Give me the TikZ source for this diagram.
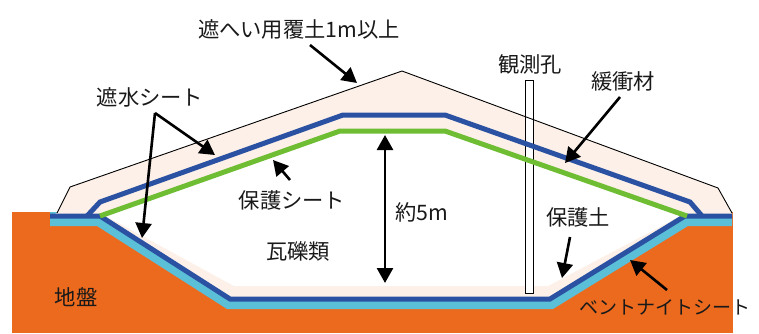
\documentclass[tikz,border=0pt]{standalone}
\usepackage{fontspec}
\setmainfont{Noto Sans CJK JP}
\usetikzlibrary{arrows.meta}
\definecolor{ground}{HTML}{EB6A1E}
\definecolor{bentonite}{HTML}{5CBFD8}
\definecolor{liner}{HTML}{2B52A2}
\definecolor{guard}{HTML}{6EBD33}
\definecolor{soil}{HTML}{FCF0E8}
\tikzset{
  lbl/.style={font=\fontsize{21.3}{25}\selectfont, text=black!90, inner sep=0pt},
  sheet/.style={line width=5pt, line join=miter},
  head/.tip={Triangle[length=15pt,width=16pt]},
  callout/.style={-head, line width=2.6pt},
}
\begin{document}
\begin{tikzpicture}[x=1pt, y=-1pt]
  \useasboundingbox (0,0) rectangle (759,333);
  % Ground and bentonite bed
  \fill[ground] (12,212) rectangle (733,333);
  \fill[bentonite] (50,212) -- (50,226) -- (97,226) -- (227,309) -- (553,309) -- (688,226) -- (732,226) -- (732,212) -- cycle;
  % Cover soil, buffer and protective soil
  \fill[soil] (50,216) -- (57,213) -- (70,187) -- (402,71) -- (718,188) -- (732,213) -- (732,216)
    -- (685,216) -- (550,299) -- (230,299) -- (100,216) -- cycle;
  % Rubble
  \fill[white] (102,214) -- (340,131) -- (445,131) -- (684,214) -- (548,286) -- (234,286) -- cycle;
  % Observation hole
  \draw[fill=white, line width=0.8pt] (525,80) rectangle (533,293);
  % Sheets
  \draw[sheet, liner] (50,216) -- (100,216) -- (230,299) -- (550,299) -- (685,216) -- (732,216);
  \draw[sheet, liner] (87,216) -- (100,202) -- (343,115) -- (445,115) -- (690,202) -- (702,216);
  \draw[sheet, guard] (100,216) -- (340,131) -- (445,131) -- (687,216);
  % Cover outline
  \draw[line width=0.9pt] (57,213) -- (70,187) -- (402,71) -- (718,188) -- (732,213);

  % Labels
  \node[lbl] (covertxt) at (299,29) {遮へい用覆土1m以上};
  \node[lbl] (linertxt) at (150,97) {遮水シート};
  \node[lbl] (guardtxt) at (292,200) {保護シート};
  \node[lbl] (rubbletxt) at (298,251) {瓦礫類};
  \node[lbl] (depthtxt) at (422,212) {約5m};
  \node[lbl] (holetxt) at (530,64) {観測孔};
  \node[lbl] (buffertxt) at (623,81) {緩衝材};
  \node[lbl] (soiltxt) at (578,217) {保護土};
  \node[lbl, font=\fontsize{19}{23}\selectfont] (benttxt) at (665,307) {ベントナイトシート};
  \node[lbl] (groundtxt) at (76,297) {地盤};

  % Arrow ends
  \coordinate (coverA) at (310,45);   \coordinate (coverB) at (357,83);
  \coordinate (linerA) at (155,113);  \coordinate (linerB) at (215,155);
  \coordinate (linerC) at (142,238);
  \coordinate (guardA) at (290,180);  \coordinate (guardB) at (273,160);
  \coordinate (depthA) at (385,135);  \coordinate (depthB) at (385,283);
  \coordinate (bufferA) at (620,97);  \coordinate (bufferB) at (565,163);
  \coordinate (soilA) at (570,237);   \coordinate (soilB) at (562,278);
  \coordinate (bentA) at (667,290);   \coordinate (bentB) at (630,260);

  % Arrows
  \draw[callout] (coverA) -- (coverB);
  \draw[callout] (linerA) -- (linerB);
  \draw[callout] (linerA) -- (linerC);
  \draw[callout] (guardA) -- (guardB);
  \draw[callout, head-head] (depthA) -- (depthB);
  \draw[callout] (bufferA) -- (bufferB);
  \draw[callout] (soilA) -- (soilB);
  \draw[callout] (bentA) -- (bentB);
\end{tikzpicture}
\end{document}
